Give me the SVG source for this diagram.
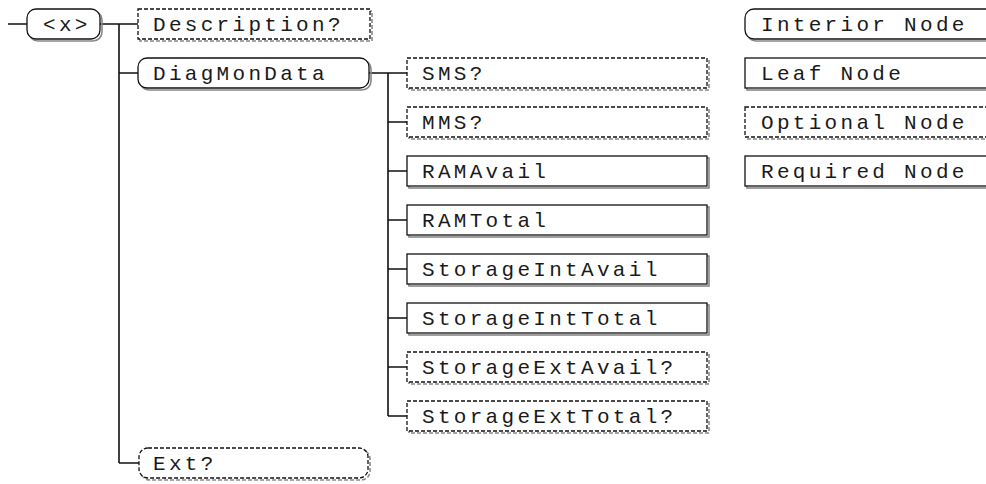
<svg xmlns="http://www.w3.org/2000/svg" width="986" height="484" viewBox="0 0 986 484">
<style>
.bx{fill:#fff;stroke:#111;stroke-width:1.3}
.sh{fill:none;stroke:#888;stroke-width:1.6}
.opt{stroke-dasharray:4 2}
.t{font-family:"Liberation Mono","DejaVu Sans Mono",monospace;font-size:21px;letter-spacing:3.3px;fill:#1a1a1a}
.c{fill:none;stroke:#111;stroke-width:1.6}
</style>
<rect width="986" height="484" fill="#fff"/>
<g id="connectors">
<path class="c" d="M8 24H27M100 24H138M119 24V463M119 73H138M119 463H139"/>
<path class="c" d="M369 73H407M388 73V416M388 122H407M388 171H407M388 220H407M388 269H407M388 318H407M388 367H407M388 416H407"/>
</g>
<g id="root"><rect class="sh" x="29" y="11" width="73" height="30" rx="9"/><rect class="bx" x="27" y="9" width="73" height="30" rx="9"/><text class="t" x="43" y="31">&lt;x&gt;</text></g>
<g id="description"><rect class="sh opt" x="140" y="11" width="232" height="30"/><rect class="bx opt" x="138" y="9" width="232" height="30"/><text class="t" x="153" y="31">Description?</text></g>
<g id="diagmondata"><rect class="sh" x="140" y="60" width="231" height="30" rx="9"/><rect class="bx" x="138" y="58" width="231" height="30" rx="9"/><text class="t" x="153" y="80">DiagMonData</text></g>
<g id="ext"><rect class="sh opt" x="141" y="450" width="229" height="30" rx="9"/><rect class="bx opt" x="139" y="448" width="229" height="30" rx="9"/><text class="t" x="153" y="470">Ext?</text></g>
<g id="sms"><rect class="sh opt" x="409" y="60" width="300" height="30"/><rect class="bx opt" x="407" y="58" width="300" height="30"/><text class="t" x="422" y="80">SMS?</text></g>
<g id="mms"><rect class="sh opt" x="409" y="109" width="300" height="30"/><rect class="bx opt" x="407" y="107" width="300" height="30"/><text class="t" x="422" y="129">MMS?</text></g>
<g id="ramavail"><rect class="sh" x="409" y="158" width="300" height="30"/><rect class="bx" x="407" y="156" width="300" height="30"/><text class="t" x="422" y="178">RAMAvail</text></g>
<g id="ramtotal"><rect class="sh" x="409" y="207" width="300" height="30"/><rect class="bx" x="407" y="205" width="300" height="30"/><text class="t" x="422" y="227">RAMTotal</text></g>
<g id="storageintavail"><rect class="sh" x="409" y="256" width="300" height="30"/><rect class="bx" x="407" y="254" width="300" height="30"/><text class="t" x="422" y="276">StorageIntAvail</text></g>
<g id="storageinttotal"><rect class="sh" x="409" y="305" width="300" height="30"/><rect class="bx" x="407" y="303" width="300" height="30"/><text class="t" x="422" y="325">StorageIntTotal</text></g>
<g id="storageextavail"><rect class="sh opt" x="409" y="354" width="300" height="30"/><rect class="bx opt" x="407" y="352" width="300" height="30"/><text class="t" x="422" y="374">StorageExtAvail?</text></g>
<g id="storageexttotal"><rect class="sh opt" x="409" y="403" width="300" height="30"/><rect class="bx opt" x="407" y="401" width="300" height="30"/><text class="t" x="422" y="423">StorageExtTotal?</text></g>
<g id="legend-interior"><rect class="sh" x="747" y="11" width="260" height="30" rx="9"/><rect class="bx" x="745" y="9" width="260" height="30" rx="9"/><text class="t" x="761" y="31">Interior Node</text></g>
<g id="legend-leaf"><rect class="sh" x="747" y="60" width="260" height="30"/><rect class="bx" x="745" y="58" width="260" height="30"/><text class="t" x="761" y="80">Leaf Node</text></g>
<g id="legend-optional"><rect class="sh opt" x="747" y="109" width="260" height="30"/><rect class="bx opt" x="745" y="107" width="260" height="30"/><text class="t" x="761" y="129">Optional Node</text></g>
<g id="legend-required"><rect class="sh" x="747" y="158" width="260" height="30"/><rect class="bx" x="745" y="156" width="260" height="30"/><text class="t" x="761" y="178">Required Node</text></g>
</svg>
